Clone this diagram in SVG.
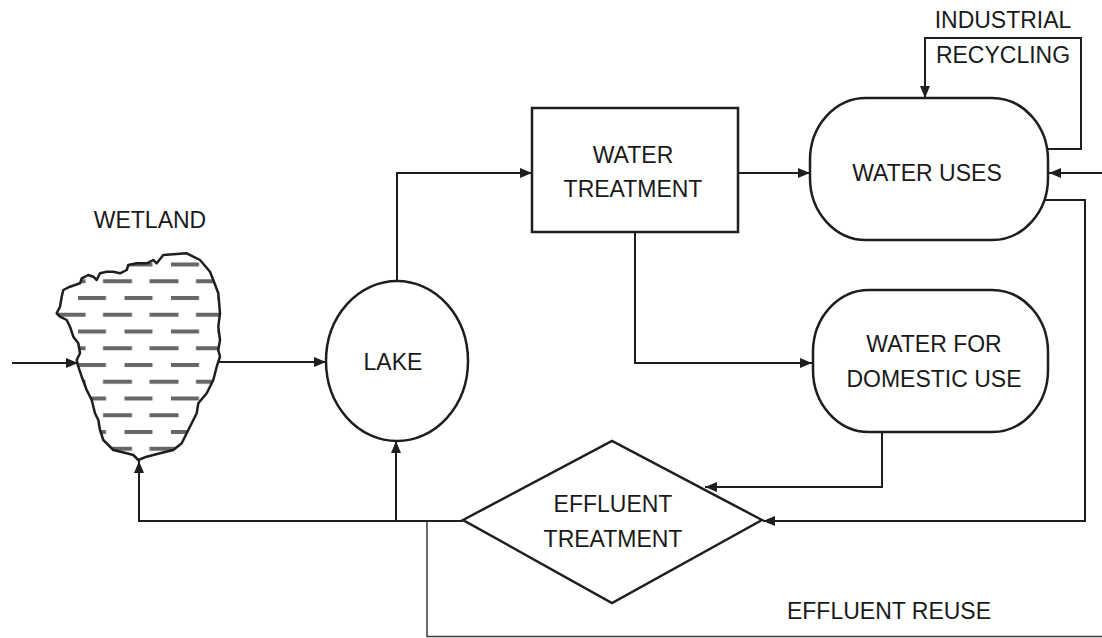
<svg xmlns="http://www.w3.org/2000/svg" width="1102" height="638" viewBox="0 0 1102 638">
  <style>
    .shape { fill: #ffffff; stroke: #1e1e1e; stroke-width: 2.5; }
    .wire { fill: none; stroke: #1e1e1e; stroke-width: 2; }
    .thin { fill: none; stroke: #3a3a3a; stroke-width: 1.5; }
    .label { font-family: "Liberation Sans", Arial, sans-serif; font-size: 23px; fill: #1a1a1a; text-anchor: middle; }
    .bar { fill: #666666; }
  </style>
  <defs>
    <marker id="arrow" viewBox="0 0 12 10" refX="12" refY="5" markerWidth="13" markerHeight="10" markerUnits="userSpaceOnUse" orient="auto">
      <path d="M0,0 L12,5 L0,10 Z" fill="#1e1e1e"/>
    </marker>
    <!-- water surface dashes for the wetland -->
    <pattern id="waterDashes" patternUnits="userSpaceOnUse" x="78" y="262.5" width="46.5" height="33.5">
      <rect class="bar" x="0" y="0" width="28" height="4"/>
      <rect class="bar" x="25" y="16.75" width="21.5" height="4"/>
      <rect class="bar" x="0" y="16.75" width="7.5" height="4"/>
    </pattern>
    <path id="wetlandOutline" d="M156.7,263.3 L163.3,255 L186.7,253.3 L200,260 L210,271.7 L213.3,280 L218.3,293.3 L220,313.3 L218.3,326.7 L220,340 L218.3,350 L220,356.7 L216.7,366.7 L213.3,380 L206.7,393.3 L198.3,403.3 L196.7,413.3 L193.3,420 L186.7,433.3 L181.7,443.3 L173.3,450 L160,453.3 L146.7,456.7 L138.3,460 L133.3,455 L126.7,453.3 L113.3,450 L103.3,440 L100,430 L98.3,420 L95,413.3 L91.7,400 L86.7,390 L81.7,376.7 L78.3,366.7 L76.7,360 L80,353.3 L78.3,343.3 L73.3,336.7 L70,326.7 L66.7,320 L60,316.7 L56.7,313.3 L60,306.7 L61.7,296.7 L63.3,290 L70,286.7 L80,283.3 L81.7,278.3 L88.3,275 L93.3,276.7 L96.7,280 L100,273.3 L106.7,271.7 L113.3,271.7 L120,273.3 L126.7,270 L128.3,265 L136.7,263.3 L146.7,263.3 L153.3,260 Z"/>
    <clipPath id="wetlandClip">
      <use href="#wetlandOutline"/>
    </clipPath>
  </defs>

  <rect x="0" y="0" width="1102" height="638" fill="#ffffff"/>

  <!-- connectors -->
  <g id="connectors">
    <path class="wire" d="M12,363 H78" marker-end="url(#arrow)"/>
    <path class="wire" d="M219,362 H326" marker-end="url(#arrow)"/>
    <path class="wire" d="M397,281 V173 H532" marker-end="url(#arrow)"/>
    <path class="wire" d="M738,173 H810" marker-end="url(#arrow)"/>
    <path class="wire" d="M635,232 V363 H812" marker-end="url(#arrow)"/>
    <path class="wire" d="M1046,149 H1081 V38 H925 V98" marker-end="url(#arrow)"/>
    <path class="wire" d="M1102,173 H1049" marker-end="url(#arrow)"/>
    <path class="wire" d="M1043,200 H1085 V521 H763" marker-end="url(#arrow)"/>
    <path class="wire" d="M882,432 V487 H705" marker-end="url(#arrow)"/>
    <path class="wire" d="M463,521 H139 V461" marker-end="url(#arrow)"/>
    <path class="wire" d="M396,521 V441" marker-end="url(#arrow)"/>
    <path class="thin" d="M427,521 V636.5 H1102"/>
    <text class="label" x="889" y="619">EFFLUENT REUSE</text>
    <text class="label" x="1003" y="28">INDUSTRIAL</text>
    <text class="label" x="1003" y="63">RECYCLING</text>
  </g>

  <!-- wetland -->
  <g id="wetland">
    <use href="#wetlandOutline" fill="#ffffff"/>
    <rect x="50" y="245" width="180" height="220" fill="url(#waterDashes)" clip-path="url(#wetlandClip)"/>
    <use href="#wetlandOutline" fill="none" stroke="#1e1e1e" stroke-width="2.5" stroke-linejoin="round"/>
    <text class="label" x="150" y="228">WETLAND</text>
  </g>

  <!-- lake -->
  <g id="lake">
    <ellipse class="shape" cx="397" cy="361" rx="71" ry="80"/>
    <text class="label" x="393" y="370">LAKE</text>
  </g>

  <!-- water treatment -->
  <g id="water-treatment">
    <rect class="shape" x="532" y="108" width="206" height="124" stroke-width="3"/>
    <text class="label" x="633" y="163">WATER</text>
    <text class="label" x="633" y="197">TREATMENT</text>
  </g>

  <!-- water uses -->
  <g id="water-uses">
    <rect class="shape" x="810" y="98" width="238" height="142" rx="56" ry="62"/>
    <text class="label" x="927" y="181">WATER USES</text>
  </g>

  <!-- water for domestic use -->
  <g id="domestic-use">
    <rect class="shape" x="813" y="290" width="235" height="142" rx="56" ry="62"/>
    <text class="label" x="934" y="352">WATER FOR</text>
    <text class="label" x="934" y="387">DOMESTIC USE</text>
  </g>

  <!-- effluent treatment -->
  <g id="effluent-treatment">
    <polygon class="shape" points="463,520 612,441 762,520 612,603"/>
    <text class="label" x="613" y="512">EFFLUENT</text>
    <text class="label" x="613" y="547">TREATMENT</text>
  </g>
</svg>
